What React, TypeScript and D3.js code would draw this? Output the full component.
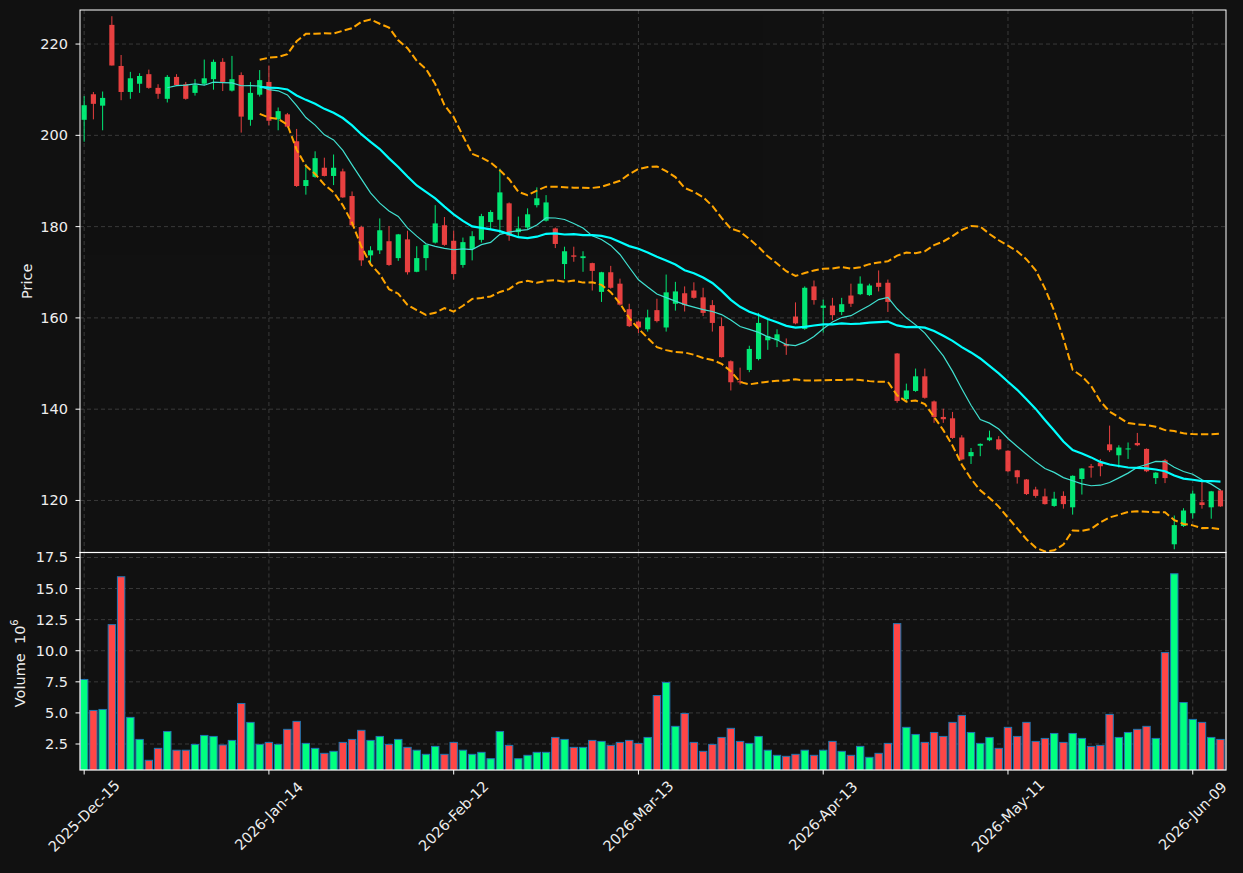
import React from 'react';
import * as d3 from 'd3';

const opens = [203.4, 209.0, 206.5, 224.2, 215.2, 209.5, 211.3, 213.4, 210.4, 208.0, 212.8, 211.2, 209.3, 211.3, 212.3, 216.1, 209.8, 213.2, 203.4, 208.9,
  211.7, 203.5, 204.6, 198.7, 188.9, 190.9, 192.9, 191.1, 192.1, 186.7, 179.9, 173.7, 174.8, 176.8, 173.1, 177.2, 170.1, 173.1, 176.5, 180.3,
  176.9, 171.6, 175.1, 177.1, 181.0, 181.5, 185.1, 178.8, 179.8, 184.7, 181.3, 179.6, 171.8, 173.7, 173.1, 172.0, 165.7, 170.0, 167.5, 161.9,
  159.2, 157.5, 161.7, 157.9, 163.1, 165.4, 166.0, 164.5, 162.8, 158.2, 150.5, 146.1, 148.6, 151.0, 155.1, 155.1, 154.3, 160.3, 157.6, 166.9,
  162.2, 162.7, 161.3, 164.9, 165.2, 165.0, 167.7, 167.7, 152.2, 142.2, 144.0, 147.2, 141.7, 138.3, 138.0, 133.8, 129.7, 132.0, 133.2, 133.4,
  130.9, 126.6, 124.6, 122.4, 120.9, 118.8, 121.0, 118.5, 124.7, 127.5, 128.3, 132.3, 129.9, 131.3, 132.6, 131.3, 124.9, 128.8, 110.4, 114.4,
  117.2, 119.6, 118.5, 122.2];
const highs = [208.6, 209.5, 209.6, 226.1, 217.6, 213.9, 213.6, 214.4, 211.2, 213.2, 213.4, 211.7, 212.3, 216.6, 216.6, 216.9, 217.4, 213.8, 211.7, 214.3,
  215.3, 206.1, 204.9, 201.4, 193.7, 196.5, 195.1, 195.8, 192.7, 187.7, 180.2, 175.7, 181.8, 180.1, 178.4, 179.1, 175.7, 176.1, 184.7, 182.1,
  179.1, 177.6, 179.0, 182.8, 183.6, 192.7, 185.3, 182.2, 184.0, 188.6, 186.9, 179.8, 175.6, 175.6, 174.6, 172.1, 170.1, 171.4, 168.6, 163.1,
  159.4, 161.8, 164.2, 169.5, 167.9, 166.9, 167.8, 166.6, 163.9, 160.1, 150.7, 149.1, 153.9, 161.1, 159.7, 157.5, 155.5, 163.4, 166.9, 168.2,
  164.0, 164.4, 164.4, 167.5, 169.1, 167.5, 170.4, 168.4, 152.3, 145.6, 148.9, 148.9, 141.9, 140.1, 139.4, 134.3, 131.5, 132.5, 135.3, 134.1,
  131.0, 126.7, 124.7, 123.0, 122.6, 121.9, 122.0, 125.5, 127.1, 128.0, 129.1, 136.4, 132.1, 132.7, 134.8, 131.4, 126.2, 129.1, 116.7, 118.3,
  122.2, 124.4, 122.1, 122.4];
const lows = [198.6, 203.5, 201.1, 215.3, 207.7, 208.0, 209.3, 210.2, 208.0, 207.2, 210.8, 207.8, 208.7, 211.0, 210.0, 209.7, 209.6, 200.6, 202.1, 208.5,
  202.2, 201.1, 201.7, 188.7, 187.0, 190.7, 191.0, 189.1, 186.3, 180.0, 171.4, 171.5, 174.0, 171.4, 172.5, 169.5, 170.0, 170.4, 176.3, 175.8,
  168.4, 171.0, 172.6, 176.5, 179.5, 178.6, 176.9, 177.8, 179.5, 184.2, 181.1, 175.3, 168.5, 172.3, 170.1, 166.0, 163.5, 166.4, 162.7, 158.0,
  156.7, 157.0, 159.0, 157.0, 161.6, 161.4, 164.2, 160.4, 157.0, 151.3, 144.1, 145.4, 148.1, 150.7, 153.0, 153.6, 151.9, 158.6, 157.4, 162.9,
  156.8, 159.5, 160.6, 162.4, 165.0, 164.8, 165.8, 161.3, 141.4, 141.8, 143.8, 142.3, 137.0, 137.0, 133.5, 128.8, 128.0, 129.7, 133.0, 131.0,
  126.2, 123.7, 121.2, 120.6, 119.1, 118.6, 118.2, 116.9, 121.3, 125.0, 125.3, 130.6, 127.2, 129.1, 131.9, 126.2, 123.6, 123.8, 109.3, 114.2,
  116.0, 118.2, 116.0, 118.6];
const closes = [206.6, 206.9, 208.2, 215.3, 209.5, 212.5, 213.0, 210.4, 209.1, 212.8, 211.0, 208.0, 211.0, 212.5, 216.1, 211.7, 212.3, 204.1, 209.3, 212.1,
  203.2, 205.3, 201.9, 188.9, 190.2, 195.0, 191.1, 192.9, 186.4, 180.3, 172.6, 174.8, 179.2, 171.6, 178.3, 170.0, 173.1, 176.0, 180.7, 176.0,
  169.6, 176.6, 177.9, 182.3, 183.2, 187.5, 178.0, 179.6, 182.7, 186.2, 185.3, 176.2, 174.6, 173.4, 173.5, 170.3, 170.0, 166.6, 162.9, 158.2,
  157.9, 160.1, 159.3, 165.6, 165.8, 162.8, 164.4, 161.1, 158.9, 151.4, 145.9, 145.9, 153.2, 158.9, 156.0, 156.4, 153.8, 158.8, 166.6, 163.9,
  162.7, 160.6, 163.0, 163.1, 167.5, 167.1, 166.8, 163.5, 141.8, 144.1, 147.2, 142.5, 138.3, 137.8, 133.7, 129.0, 130.6, 132.4, 133.8, 131.2,
  126.4, 125.1, 121.4, 121.0, 119.2, 120.4, 119.2, 125.4, 127.0, 127.2, 127.5, 131.0, 131.6, 131.4, 132.1, 126.4, 126.1, 124.9, 114.6, 117.8,
  121.5, 119.0, 122.0, 118.7];
// volume in millions
const volumes = [7.69, 5.2, 5.28, 12.1, 15.95, 4.64, 2.87, 1.19, 2.15, 3.51, 2.0, 2.0, 2.47, 3.19, 3.11, 2.42, 2.79, 5.76, 4.24, 2.47,
  2.63, 2.47, 3.68, 4.32, 2.55, 2.15, 1.75, 1.91, 2.63, 2.87, 3.6, 2.79, 3.11, 2.47, 2.87, 2.23, 2.0, 1.67, 2.31, 1.67,
  2.63, 2.0, 1.67, 1.83, 1.32, 3.51, 2.39, 1.32, 1.59, 1.83, 1.83, 3.03, 2.87, 2.23, 2.23, 2.79, 2.71, 2.39, 2.63, 2.79,
  2.55, 3.03, 6.4, 7.45, 3.92, 4.96, 2.63, 1.91, 2.47, 3.03, 3.76, 2.71, 2.55, 3.11, 2.0, 1.59, 1.51, 1.67, 2.0, 1.59,
  2.0, 2.71, 1.91, 1.59, 2.31, 1.43, 1.75, 2.55, 12.18, 3.84, 3.27, 2.63, 3.43, 3.11, 4.24, 4.8, 3.43, 2.55, 3.03, 2.15,
  3.84, 3.11, 4.24, 2.71, 2.95, 3.35, 2.63, 3.35, 2.95, 2.31, 2.39, 4.88, 3.03, 3.43, 3.68, 3.92, 2.95, 9.85, 16.19, 5.84,
  4.48, 4.24, 3.03, 2.87];

const tickIndex = [0, 20, 40, 60, 80, 100, 120];
const tickLabels = ['2025-Dec-15', '2026-Jan-14', '2026-Feb-12', '2026-Mar-13', '2026-Apr-13', '2026-May-11', '2026-Jun-09'];
const priceTicks = [120, 140, 160, 180, 200, 220];
const volumeTicks = [2.5, 5.0, 7.5, 10.0, 12.5, 15.0, 17.5];

const W = 1243, H = 873;
const L = 80, R = 1226, T = 10, MID = 552.5, B = 770;
const BG = '#111111';
const UP = '#00ff80';
const DOWN = '#ff4646';
const FONT = 'DejaVu Sans, sans-serif';
const TXT = '#eeeeee';
const GRID = '#3a3a3a';

function rolling(n: number, f: (a: number[]) => number | undefined) {
  return closes.map((_, i) => (i < n - 1 ? null : (f(closes.slice(i - n + 1, i + 1)) as number)));
}

export default function App() {
  const x = d3.scaleLinear().domain([-0.45, 123.6]).range([L, R]);
  const y = d3.scaleLinear().domain([108.6, 227.46]).range([MID, T]);
  const yv = d3.scaleLinear().domain([0.41, 17.9]).range([B, MID]);
  const step = x(1) - x(0);
  const bw = step * 0.56;
  const vw = step * 0.8;

  const ma10 = rolling(10, d3.mean);
  const ma20 = rolling(20, d3.mean);
  const sd20 = rolling(20, d3.deviation);
  const upper = ma20.map((m, i) => (m == null ? null : m + 2 * (sd20[i] as number)));
  const lower = ma20.map((m, i) => (m == null ? null : m - 2 * (sd20[i] as number)));

  const line = d3
    .line<number | null>()
    .defined((d) => d != null)
    .x((_, i) => x(i))
    .y((d) => y(d as number));

  return (
    <div style={{ position: 'absolute', left: 0, top: 0 }}>
      <svg width={W} height={H} style={{ display: 'block', background: BG }} fontFamily={FONT}>
        <defs>
          <clipPath id="mainClip">
            <rect x={L} y={T} width={R - L} height={MID - T} />
          </clipPath>
          <clipPath id="volClip">
            <rect x={L} y={MID} width={R - L} height={B - MID} />
          </clipPath>
        </defs>
        <rect x={0} y={0} width={W} height={H} fill={BG} />

        {/* grid */}
        {priceTicks.map((p) => (
          <line key={'gp' + p} x1={L} x2={R} y1={y(p)} y2={y(p)} stroke={GRID} strokeDasharray="4,3" strokeWidth={1} />
        ))}
        {volumeTicks.map((v) => (
          <line key={'gv' + v} x1={L} x2={R} y1={yv(v)} y2={yv(v)} stroke={GRID} strokeDasharray="4,3" strokeWidth={1} />
        ))}
        {tickIndex.map((t) => (
          <g key={'gx' + t}>
            <line x1={x(t)} x2={x(t)} y1={T} y2={MID} stroke={GRID} strokeDasharray="4,3" strokeWidth={1} />
            <line x1={x(t)} x2={x(t)} y1={MID} y2={B} stroke={GRID} strokeDasharray="4,3" strokeWidth={1} />
          </g>
        ))}

        {/* candles */}
        <g clipPath="url(#mainClip)" opacity={0.9}>
          {closes.map((c, i) => {
            const o = opens[i];
            const col = c >= o ? UP : DOWN;
            const top = y(Math.max(o, c));
            const bot = y(Math.min(o, c));
            return (
              <g key={'c' + i}>
                <line x1={x(i)} x2={x(i)} y1={y(highs[i])} y2={y(lows[i])} stroke={col} strokeWidth={1} />
                <rect x={x(i) - bw / 2} y={top} width={bw} height={Math.max(1, bot - top)} fill={col} />
              </g>
            );
          })}
        </g>

        {/* indicator lines */}
        <g clipPath="url(#mainClip)" fill="none">
          <path d={line(upper) || ''} stroke="#ffa500" strokeWidth={2} strokeDasharray="7.4,3.2" />
          <path d={line(lower) || ''} stroke="#ffa500" strokeWidth={2} strokeDasharray="7.4,3.2" />
          <path d={line(ma10) || ''} stroke="#40e0d0" strokeWidth={1.2} />
          <path d={line(ma20) || ''} stroke="#00ffff" strokeWidth={2.2} />
        </g>

        {/* volume */}
        <g clipPath="url(#volClip)">
          {volumes.map((v, i) => (
            <rect
              key={'v' + i}
              x={x(i) - vw / 2}
              y={yv(v)}
              width={vw}
              height={B + 5 - yv(v)}
              fill={closes[i] >= opens[i] ? UP : DOWN}
              stroke="#1f77b4"
              strokeWidth={1}
            />
          ))}
        </g>

        {/* spines */}
        <rect x={L} y={T} width={R - L} height={MID - T} fill="none" stroke="#ffffff" strokeWidth={1} />
        <rect x={L} y={MID} width={R - L} height={B - MID} fill="none" stroke="#ffffff" strokeWidth={1.2} />

        {/* y ticks main */}
        {priceTicks.map((p) => (
          <g key={'tp' + p}>
            <line x1={L - 4.5} x2={L} y1={y(p)} y2={y(p)} stroke="#ffffff" strokeWidth={1} />
            <text x={L - 12} y={y(p)} fill={TXT} fontSize={14.5} textAnchor="end" dominantBaseline="central">
              {p}
            </text>
          </g>
        ))}
        {volumeTicks.map((v) => (
          <g key={'tv' + v}>
            <line x1={L - 4.5} x2={L} y1={yv(v)} y2={yv(v)} stroke="#ffffff" strokeWidth={1} />
            <text x={L - 12} y={yv(v)} fill={TXT} fontSize={14.5} textAnchor="end" dominantBaseline="central">
              {v.toFixed(1)}
            </text>
          </g>
        ))}

        {/* x ticks */}
        {tickIndex.map((t, k) => (
          <g key={'tx' + t}>
            <line x1={x(t)} x2={x(t)} y1={B} y2={B + 4.5} stroke="#ffffff" strokeWidth={1} />
            <text
              transform={`translate(${x(t)},${816}) rotate(-45)`}
              fill={TXT}
              fontSize={14.5}
              textAnchor="middle"
              dominantBaseline="central"
            >
              {tickLabels[k]}
            </text>
          </g>
        ))}

        {/* axis labels */}
        <text transform={`translate(27,${(T + MID) / 2}) rotate(-90)`} fill={TXT} fontSize={14.5} textAnchor="middle" dominantBaseline="central">
          Price
        </text>
        <text
          transform={`translate(20,${(MID + B) / 2 + 2}) rotate(-90)`}
          fill={TXT}
          fontSize={14.5}
          textAnchor="middle"
          dominantBaseline="central"
          style={{ whiteSpace: 'pre' }}
        >
          {'Volume\u00a0\u00a010'}
          <tspan dy={-6} fontSize={10}>6</tspan>
        </text>
      </svg>
    </div>
  );
}
